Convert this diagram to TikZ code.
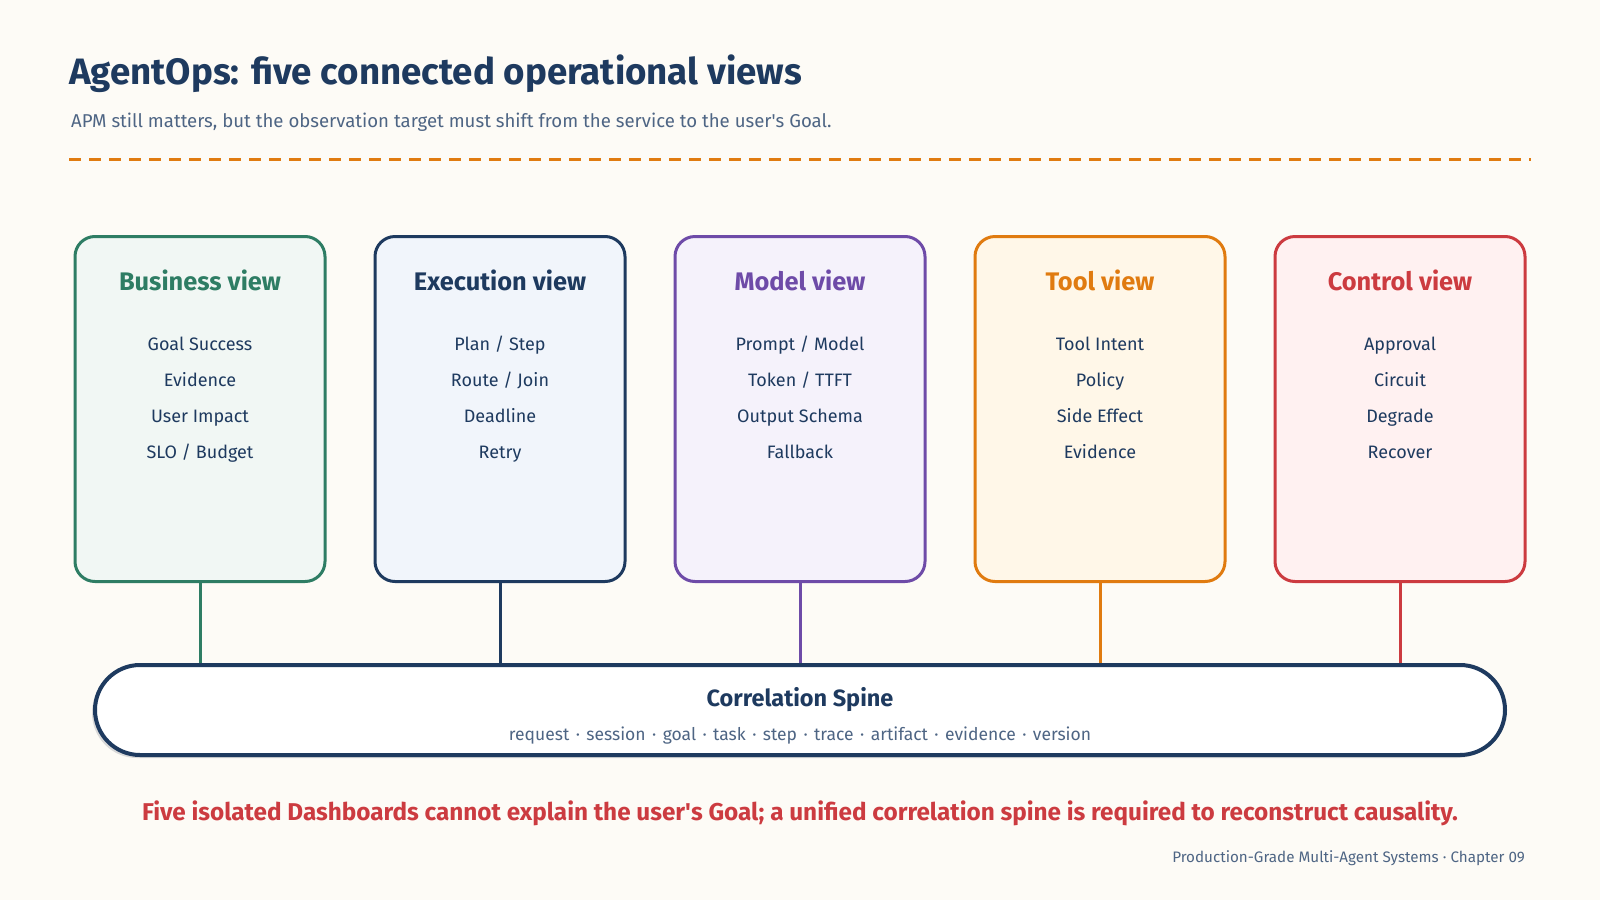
\documentclass[tikz,border=0pt]{standalone}
\usepackage{fontspec}
\setmainfont{Fira Sans}
\usetikzlibrary{positioning}
\definecolor{bg}{HTML}{FDFBF6}
\definecolor{navy}{HTML}{1E3A5F}
\definecolor{sub}{HTML}{4E6584}
\definecolor{cgreen}{HTML}{2E7D64}
\definecolor{cpurple}{HTML}{6E4BA8}
\definecolor{corange}{HTML}{E07B10}
\definecolor{cred}{HTML}{CC3B40}
\definecolor{fgreen}{HTML}{F1F7F4}
\definecolor{fblue}{HTML}{F1F5FB}
\definecolor{fpurple}{HTML}{F5F2FB}
\definecolor{forange}{HTML}{FFF7E8}
\definecolor{fred}{HTML}{FFF1F1}
\newcommand{\apos}{\textquotesingle}
\newcommand{\sdot}{\hspace{1.8pt}\ ·\ \hspace{1.8pt}}
\tikzset{
  viewbox/.style={draw=#1, line width=3pt, rounded corners=20pt, minimum width=250pt, minimum height=345pt, anchor=north, inner sep=0pt},
  viewhead/.style={text=#1, font=\fontsize{25.4}{30}\selectfont\bfseries, anchor=base},
  viewitem/.style={text=navy, font=\fontsize{18}{21}\selectfont, anchor=base},
  link/.style={draw=#1, line width=3pt},
}
\begin{document}
\begin{tikzpicture}[x=1pt,y=-1pt]
\useasboundingbox[fill=bg] (0,0) rectangle (1600,900);
\node[anchor=base west, text=navy, font=\fontsize{36.7}{42}\selectfont\bfseries, inner sep=0pt] (title) at (69,84) {AgentOps: five connected operational views};
\node[anchor=base west, text=sub, font=\fontsize{18.6}{22}\selectfont, inner sep=0pt] (subtitle) at (71,127) {APM still matters, but the observation target must shift from the service to the user\apos s Goal.};
\coordinate (dl) at (69,159);
\coordinate (dr) at (1531,159);
\draw[corange, line width=3pt, dash pattern=on 12pt off 8pt] (dl) -- (dr);

% spine
\node[fill=gray!30, rounded corners=45pt, minimum width=1410pt, minimum height=90pt, inner sep=0pt] (shadow) at (797,713) {};
\node[draw=navy, fill=white, line width=4pt, rounded corners=45pt, minimum width=1410pt, minimum height=90pt, inner sep=0pt] (spine) at (800,710) {};
\node[text=navy, font=\fontsize{23.5}{28}\selectfont\bfseries, anchor=base] (spt) at (800,706) {Correlation Spine};
\node[text=sub, font=\fontsize{17.5}{21}\selectfont, anchor=base] (sps) at (800,740) {request\sdot session\sdot goal\sdot task\sdot step\sdot trace\sdot artifact\sdot evidence\sdot version};

\foreach \n/\x/\c/\f/\h/\a/\b/\cc/\d in {
  bus/200/cgreen/fgreen/{Business view}/{Goal Success}/{Evidence}/{User Impact}/{SLO / Budget},
  exe/500/navy/fblue/{Execution view}/{Plan / Step}/{Route / Join}/{Deadline}/{Retry},
  mod/800/cpurple/fpurple/{Model view}/{Prompt / Model}/{Token / TTFT}/{Output Schema}/{Fallback},
  tool/1100/corange/forange/{Tool view}/{Tool Intent}/{Policy}/{Side Effect}/{Evidence},
  ctl/1400/cred/fred/{Control view}/{Approval}/{Circuit}/{Degrade}/{Recover}}{
  \node[viewbox=\c, fill=\f] (\n) at (\x,235) {};
  \node[viewhead=\c] (\n h) at (\x,290) {\h};
  \node[viewitem] (\n 1) at (\x,350) {\a};
  \node[viewitem] (\n 2) at (\x,386) {\b};
  \node[viewitem] (\n 3) at (\x,422) {\cc};
  \node[viewitem] (\n 4) at (\x,458) {\d};
  \draw[link=\c] (\n.south) -- (\n.south |- spine.north);
}

\node[text=cred, font=\fontsize{24.3}{29}\selectfont\bfseries, anchor=base] (msg) at (800,820) {Five isolated Dashboards cannot explain the user\apos s Goal; a unified correlation spine is required to reconstruct causality.};
\node[text=sub, font=\fontsize{15.2}{18}\selectfont, anchor=base east, inner sep=0pt] (foot) at (1525,862) {Production-Grade Multi-Agent Systems · Chapter 09};
\end{tikzpicture}
\end{document}
